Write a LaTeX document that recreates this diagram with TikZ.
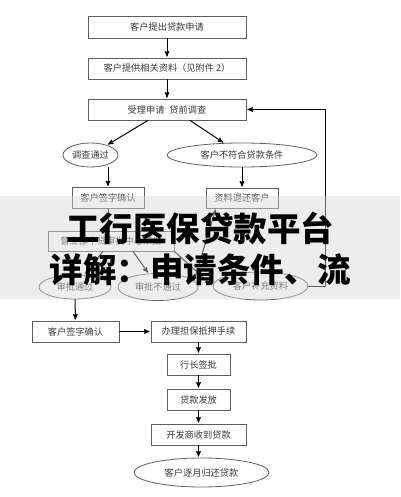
\documentclass[tikz,border=0pt]{standalone}
\usepackage{fontspec}
\setmainfont{Noto Sans CJK SC}
\usepackage{tikz}
\usetikzlibrary{arrows}
\usetikzlibrary{shapes.geometric}
\definecolor{linegray}{RGB}{95,95,95}
\definecolor{textgray}{RGB}{55,55,55}
\definecolor{bandgray}{RGB}{215,215,215}

\begin{document}
\begin{tikzpicture}[x=1pt,y=-1pt,>=stealth',shorten >=1pt,
	box/.style={draw=linegray,line width=0.8pt,rectangle,inner sep=0pt,text=textgray,font=\fontsize{9.2}{11}\selectfont},
	oval/.style={draw=linegray,line width=0.8pt,ellipse,inner sep=0pt,text=textgray,font=\fontsize{9.2}{11}\selectfont},
	flow/.style={->,line width=1pt},
	title/.style={inner sep=0pt,font=\fontsize{33.5}{40}\selectfont\bfseries}]
	\useasboundingbox (0,0) rectangle (400,497);
	\node[box,minimum width=158pt,minimum height=22pt] (ask) at (167,27) {客户提出贷款申请};
	\node[box,minimum width=158pt,minimum height=21pt] (docs) at (167,68.5) {客户提供相关资料（见附件 2）};
	\node[box,minimum width=158pt,minimum height=21pt] (accept) at (167,109.5) {受理申请\hspace{5pt}贷前调查};
	\node[oval,minimum width=55pt,minimum height=24pt] (passed) at (90.5,155) {调查通过};
	\node[oval,minimum width=150pt,minimum height=24pt] (unfit) at (242,155) {客户不符合贷款条件};
	\node[box,minimum width=72pt,minimum height=21pt] (signA) at (108,198) {客户签字确认};
	\node[box,minimum width=72pt,minimum height=20pt] (refund) at (242,198) {资料退还客户};
	\node[box,minimum width=126pt,minimum height=20pt] (review) at (111,241) {营业部个贷审批中心审批};
	\node[oval,minimum width=72pt,minimum height=24pt] (ok) at (75,287) {审批通过};
	\node[oval,minimum width=80pt,minimum height=27pt] (fail) at (158,287) {审批不通过};
	\node[oval,minimum width=95pt,minimum height=28pt] (extra) at (260.5,286) {客户补充资料};
	\node[box,minimum width=87pt,minimum height=21pt] (signB) at (75.5,331.5) {客户签字确认};
	\node[box,minimum width=95pt,minimum height=21pt] (pledge) at (198.5,331.5) {办理担保抵押手续};
	\node[box,minimum width=63pt,minimum height=21pt] (chief) at (198.5,364.5) {行长签批};
	\node[box,minimum width=63pt,minimum height=21pt] (lend) at (198.5,399.5) {贷款发放};
	\node[box,minimum width=95pt,minimum height=21pt] (paid) at (198.5,434.5) {开发商收到贷款};
	\node[oval,minimum width=135pt,minimum height=29pt] (repay) at (201.5,472.5) {客户逐月归还贷款};
	\coordinate (turn) at (325,286);
	\path[flow]	(ask) edge (docs)
			(docs) edge (accept)
			([xshift=-19pt]accept.south) edge (passed)
			([xshift=23pt]accept.south) edge (unfit)
			(passed.south -| signA.north) edge (signA.north)
			(unfit) edge (refund)
			(signA.south) edge (signA.south |- review.north)
			(review) edge (ok)
			([xshift=22pt]review.south) edge (fail)
			(review.south east) edge (extra.west)
			(fail.10) edge ([xshift=-26pt]refund.south)
			(ok) edge (signB)
			(signB) edge (pledge)
			(pledge) edge (chief)
			(chief) edge (lend)
			(lend) edge (paid)
			(paid.south) edge (paid.south |- repay.north);
	\draw[flow] (extra.east) -- (turn) |- (accept.east);
	% grey band with the heading over it
	\fill[bandgray,opacity=0.45] (0,196) rectangle (400,299);
	\node[title] (headA) at (200,228) {工行医保贷款平台};
	\node[title] (headB) at (200.5,270) {详解：申请条件、流};
\end{tikzpicture}
\end{document}
